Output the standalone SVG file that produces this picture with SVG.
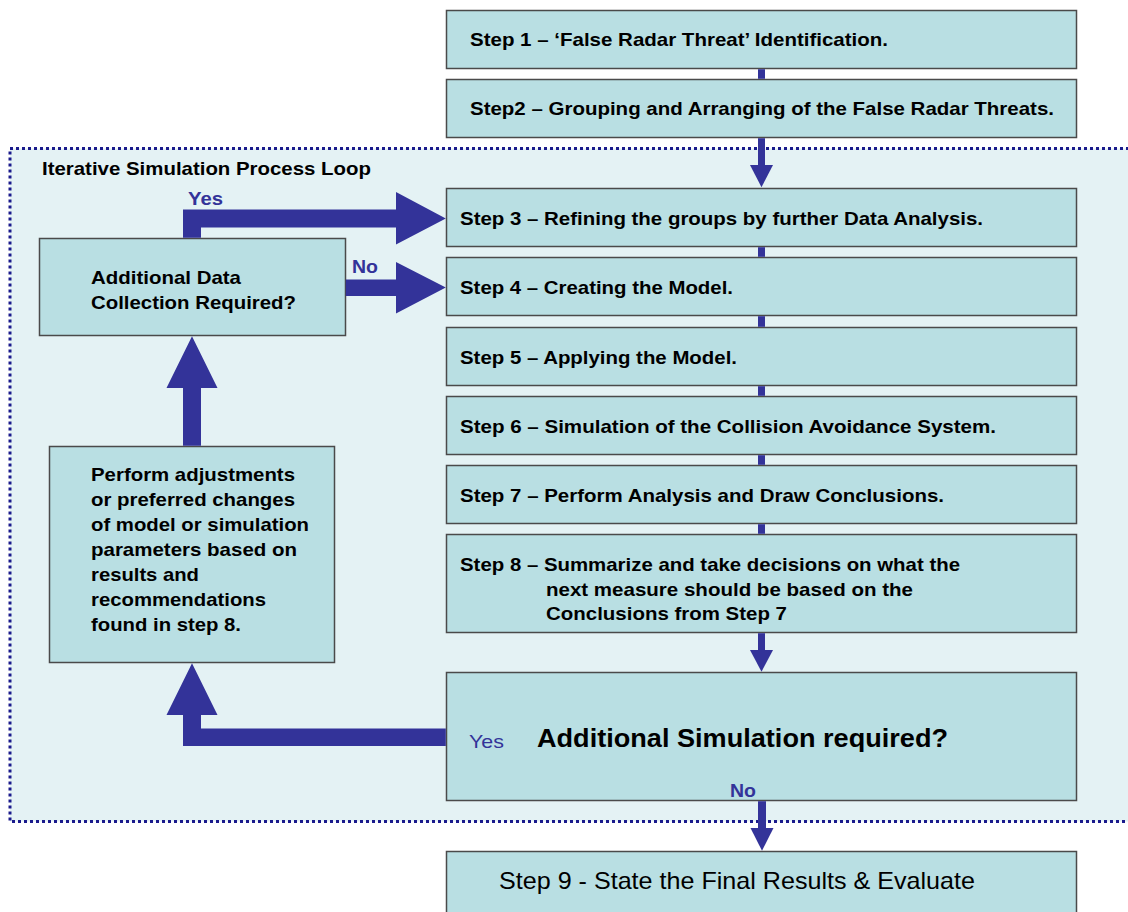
<svg xmlns="http://www.w3.org/2000/svg" width="1128" height="912" viewBox="0 0 1128 912">
<style>
.box{fill:#b9dfe3;stroke:#4a4a4a;stroke-width:1.5}
.t{font-family:"Liberation Sans",Arial,sans-serif;font-weight:bold;fill:#000}
.s{font-size:18.5px}
.m{font-size:19px}
.lbl{font-family:"Liberation Sans",Arial,sans-serif;font-weight:bold;fill:#333399;font-size:19px}
.arr{fill:#333399}
</style>
<rect width="1128" height="912" fill="#ffffff"/>
<g id="loop">
<rect x="10" y="148.5" width="1130" height="673" fill="#e4f2f4" stroke="#1a1a8c" stroke-width="3" stroke-dasharray="3,3"/>
<text x="42" y="175" class="t" style="font-size:19px" textLength="329" lengthAdjust="spacingAndGlyphs">Iterative Simulation Process Loop</text>
</g>
<g id="step1"><rect class="box" x="446.5" y="10.5" width="630" height="58"/><text x="470" y="46" class="t s" textLength="418" lengthAdjust="spacingAndGlyphs">Step 1 – ‘False Radar Threat’ Identification.</text></g>
<g id="step2"><rect class="box" x="446.5" y="79.5" width="630" height="58"/><text x="470" y="115" class="t s" textLength="584" lengthAdjust="spacingAndGlyphs">Step2 – Grouping and Arranging of the False Radar Threats.</text></g>
<g id="step3"><rect class="box" x="446.5" y="188.5" width="630" height="58"/><text x="460" y="225" class="t s" textLength="523" lengthAdjust="spacingAndGlyphs">Step 3 – Refining the groups by further Data Analysis.</text></g>
<g id="step4"><rect class="box" x="446.5" y="257.5" width="630" height="58"/><text x="460" y="294" class="t s" textLength="273" lengthAdjust="spacingAndGlyphs">Step 4 – Creating the Model.</text></g>
<g id="step5"><rect class="box" x="446.5" y="327.5" width="630" height="58"/><text x="460" y="364" class="t s" textLength="277" lengthAdjust="spacingAndGlyphs">Step 5 – Applying the Model.</text></g>
<g id="step6"><rect class="box" x="446.5" y="396.5" width="630" height="58"/><text x="460" y="433" class="t s" textLength="536" lengthAdjust="spacingAndGlyphs">Step 6 – Simulation of the Collision Avoidance System.</text></g>
<g id="step7"><rect class="box" x="446.5" y="465.5" width="630" height="58"/><text x="460" y="502" class="t s" textLength="484" lengthAdjust="spacingAndGlyphs">Step 7 – Perform Analysis and Draw Conclusions.</text></g>
<g id="step8"><rect class="box" x="446.5" y="534.5" width="630" height="98"/>
<text class="t s"><tspan x="460" y="571" textLength="500" lengthAdjust="spacingAndGlyphs">Step 8 – Summarize and take decisions on what the</tspan><tspan x="546" y="596" textLength="367" lengthAdjust="spacingAndGlyphs">next measure should be based on the</tspan><tspan x="546" y="620" textLength="241" lengthAdjust="spacingAndGlyphs">Conclusions from Step 7</tspan></text></g>
<g id="decision-sim"><rect class="box" x="446.5" y="672.5" width="630" height="128"/><text x="537" y="747" class="t" style="font-size:26px" textLength="411" lengthAdjust="spacingAndGlyphs">Additional Simulation required?</text></g>
<g id="step9"><rect class="box" x="446.5" y="851.5" width="630" height="70"/><text x="499" y="889" class="t" style="font-size:24px;font-weight:normal" textLength="476" lengthAdjust="spacingAndGlyphs">Step 9 - State the Final Results &amp; Evaluate</text></g>
<g id="decision-data"><rect class="box" x="39.5" y="238.5" width="306" height="97"/>
<text class="t m"><tspan x="91" y="284" textLength="150" lengthAdjust="spacingAndGlyphs">Additional Data</tspan><tspan x="91" y="309" textLength="205" lengthAdjust="spacingAndGlyphs">Collection Required?</tspan></text></g>
<g id="adjust"><rect class="box" x="49.5" y="446.5" width="285" height="216"/>
<text class="t m"><tspan x="91" y="481" textLength="204" lengthAdjust="spacingAndGlyphs">Perform adjustments</tspan><tspan x="91" y="506" textLength="204" lengthAdjust="spacingAndGlyphs">or preferred changes</tspan><tspan x="91" y="531" textLength="218" lengthAdjust="spacingAndGlyphs">of model or simulation</tspan><tspan x="91" y="556" textLength="206" lengthAdjust="spacingAndGlyphs">parameters based on</tspan><tspan x="91" y="581" textLength="108" lengthAdjust="spacingAndGlyphs">results and</tspan><tspan x="91" y="606" textLength="175" lengthAdjust="spacingAndGlyphs">recommendations</tspan><tspan x="91" y="631" textLength="150" lengthAdjust="spacingAndGlyphs">found in step 8.</tspan></text></g>
<g id="connectors">
<rect class="arr" x="758" y="69.2" width="7" height="9.6"/>
<rect class="arr" x="758" y="138.2" width="7" height="28"/>
<polygon class="arr" points="750,165 773,165 761.5,187.2"/>
<rect class="arr" x="758" y="247.2" width="7" height="9.6"/>
<rect class="arr" x="758" y="316.2" width="7" height="10.6"/>
<rect class="arr" x="758" y="386.2" width="7" height="9.6"/>
<rect class="arr" x="758" y="455.2" width="7" height="9.6"/>
<rect class="arr" x="758" y="524.2" width="7" height="9.6"/>
<rect class="arr" x="758" y="633.2" width="7" height="18"/>
<polygon class="arr" points="750,650 773,650 761.5,671.8"/>
<rect class="arr" x="758" y="801.2" width="8" height="28"/>
<polygon class="arr" points="750.5,828 773.5,828 762,850.8"/>
<polygon class="arr" points="183,237.8 183,209.5 396,209.5 396,192 445.8,218.5 396,244.5 396,227.5 201,227.5 201,237.8"/>
<polygon class="arr" points="345.8,279.5 396,279.5 396,262 445.8,287.5 396,313.5 396,296 345.8,296"/>
<polygon class="arr" points="183,445.8 183,388 166.5,388 192,336.2 217.5,388 201,388 201,445.8"/>
<polygon class="arr" points="445.8,728.5 445.8,746 183,746 183,715 166.5,715 192,663.2 217.5,715 201,715 201,728.5"/>
<text x="188" y="205" class="lbl" textLength="35" lengthAdjust="spacingAndGlyphs">Yes</text>
<text x="352" y="273" class="lbl" textLength="26" lengthAdjust="spacingAndGlyphs">No</text>
<text x="469" y="748" class="lbl" style="font-weight:normal" textLength="35" lengthAdjust="spacingAndGlyphs">Yes</text>
<text x="730" y="797" class="lbl" textLength="26" lengthAdjust="spacingAndGlyphs">No</text>
</g>
</svg>
